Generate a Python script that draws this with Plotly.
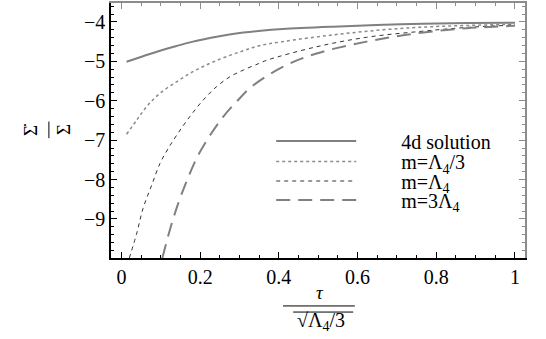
import plotly.graph_objects as go

# tau / sqrt(Lambda_4/3) and Sigma'/Sigma
tau_4d = [0.013, 0.055, 0.098, 0.140, 0.182, 0.225, 0.267, 0.310, 0.348, 0.41, 0.537, 0.71, 0.88, 1.0]
sig_4d = [-5.01, -4.87, -4.73, -4.61, -4.50, -4.41, -4.33, -4.27, -4.23, -4.18, -4.12, -4.06, -4.03, -4.02]

tau_m1 = [0.013, 0.039, 0.064, 0.098, 0.140, 0.182, 0.225, 0.267, 0.310, 0.348, 0.41, 0.537, 0.665, 0.79, 1.0]
sig_m1 = [-6.85, -6.49, -6.15, -5.81, -5.52, -5.26, -5.05, -4.88, -4.73, -4.61, -4.50, -4.33, -4.20, -4.12, -4.06]

tau_m2 = [0.020, 0.039, 0.055, 0.077, 0.098, 0.119, 0.144, 0.174, 0.208, 0.242, 0.276, 0.310, 0.348, 0.37,
          0.496, 0.623, 0.75, 0.878, 1.0]
sig_m2 = [-9.99, -9.36, -8.73, -8.14, -7.59, -7.21, -6.82, -6.40, -5.98, -5.64, -5.39, -5.22, -5.06, -4.97,
          -4.63, -4.39, -4.25, -4.14, -4.08]

tau_m3 = [0.104, 0.123, 0.140, 0.157, 0.174, 0.195, 0.229, 0.259, 0.293, 0.330, 0.41, 0.496, 0.623, 0.75,
          0.878, 1.0]
sig_m3 = [-9.99, -9.28, -8.73, -8.26, -7.84, -7.38, -6.82, -6.40, -6.02, -5.65, -5.14, -4.80, -4.50, -4.29,
          -4.16, -4.10]

names = ["4d solution", "m=Λ<sub>4</sub>/3", "m=Λ<sub>4</sub>", "m=3Λ<sub>4</sub>"]
xticks = [0, 0.2, 0.4, 0.6, 0.8, 1]
xticktext = ["0", "0.2", "0.4", "0.6", "0.8", "1"]
yticks = [-9, -8, -7, -6, -5, -4]
yticktext = ["\u22129", "\u22128", "\u22127", "\u22126", "\u22125", "\u22124"]

FONT = "Times New Roman, Liberation Serif, DejaVu Serif, serif"
sp = "\u00a0" * 8

styles = [
    dict(color="#808080", width=2, shape="spline"),
    dict(color="#8a8a8a", width=1.5, dash="dot", shape="spline"),
    dict(color="#333333", width=1, dash="4px,4px", shape="spline"),
    dict(color="#808080", width=2, dash="14px,8px", shape="spline"),
]
series = [(tau_4d, sig_4d), (tau_m1, sig_m1), (tau_m2, sig_m2), (tau_m3, sig_m3)]
legend_ids = ["legend", "legend2", "legend3", "legend4"]
legend_y = [0.459, 0.378, 0.302, 0.227]

fig = go.Figure()
for (tx, sy), nm, st, lg in zip(series, names, styles, legend_ids):
    fig.add_trace(go.Scatter(x=tx, y=sy, mode="lines", name=sp + nm, line=st, legend=lg,
                             hoverinfo="skip"))
# dummy trace so the mirrored (gray) top / right axes get drawn
fig.add_trace(go.Scatter(x=[], y=[], xaxis="x2", yaxis="y2", showlegend=False))

xr = [-0.0265, 1.0255]
yr = [-9.99, -3.52]

leg = dict(x=0.387, xanchor="left", yanchor="middle", bgcolor="rgba(0,0,0,0)",
           itemwidth=80, font=dict(family=FONT, size=20))
legends = {lg: dict(leg, y=ly) for lg, ly in zip(legend_ids, legend_y)}

fig.update_layout(
    width=546, height=339,
    margin=dict(l=111, r=21, t=3, b=81),
    paper_bgcolor="white", plot_bgcolor="white",
    font=dict(family=FONT, size=20, color="black"),
    showlegend=True,
    **legends,
    xaxis=dict(range=xr, showgrid=False, zeroline=False, showline=True, linecolor="black", linewidth=1.5,
               ticks="inside", ticklen=6, tickcolor="black", tickvals=xticks, ticktext=xticktext,
               minor=dict(ticks="inside", ticklen=3, dtick=0.05, tick0=0, tickcolor="black")),
    yaxis=dict(range=yr, showgrid=False, zeroline=False, showline=True, linecolor="black", linewidth=1.5,
               ticks="inside", ticklen=6, tickcolor="black", tickvals=yticks, ticktext=yticktext,
               minor=dict(ticks="inside", ticklen=3, dtick=0.2, tick0=0, tickcolor="black")),
    xaxis2=dict(range=xr, overlaying="x", side="top", anchor="y", showgrid=False, zeroline=False,
                showline=True, linecolor="#8c8c8c", linewidth=2, ticks="inside", ticklen=6,
                tickcolor="#8c8c8c", tickvals=xticks, showticklabels=False,
                minor=dict(ticks="inside", ticklen=3, dtick=0.05, tick0=0, tickcolor="#8c8c8c")),
    yaxis2=dict(range=yr, overlaying="y", side="right", anchor="x", showgrid=False, zeroline=False,
                showline=True, linecolor="#8c8c8c", linewidth=2, ticks="inside", ticklen=6,
                tickcolor="#8c8c8c", tickvals=yticks, showticklabels=False,
                minor=dict(ticks="inside", ticklen=3, dtick=0.2, tick0=0, tickcolor="#8c8c8c")),
)

# x axis title: tau over sqrt(Lambda_4/3)
fig.add_annotation(x=0.505, y=-0.137, xref="paper", yref="paper", text="<i>τ</i>", showarrow=False,
                   xanchor="center", yanchor="middle", font=dict(family=FONT, size=19))
fig.add_shape(type="line", xref="paper", yref="paper", x0=0.4155, x1=0.589, y0=-0.188, y1=-0.188,
              line=dict(color="black", width=1))
fig.add_annotation(x=0.508, y=-0.25, xref="paper", yref="paper", text="√Λ<sub>4</sub>/3", showarrow=False,
                   xanchor="center", yanchor="middle", font=dict(family=FONT, size=20))
fig.add_shape(type="line", xref="paper", yref="paper", x0=0.44, x1=0.585, y0=-0.212, y1=-0.212,
              line=dict(color="black", width=1))

# y axis title: Sigma-dot over Sigma, rotated
fig.add_annotation(x=-0.193, y=0.502, xref="paper", yref="paper", text="Σ̇", textangle=-90, showarrow=False,
                   xanchor="center", yanchor="middle", font=dict(family=FONT, size=19))
fig.add_shape(type="line", xref="paper", yref="paper", x0=-0.150, x1=-0.150, y0=0.47, y1=0.535,
              line=dict(color="black", width=1))
fig.add_annotation(x=-0.1135, y=0.502, xref="paper", yref="paper", text="Σ", textangle=-90, showarrow=False,
                   xanchor="center", yanchor="middle", font=dict(family=FONT, size=19))

fig.write_html("out.html", config={"displayModeBar": False},
               post_script="document.body.style.margin = '0';")
